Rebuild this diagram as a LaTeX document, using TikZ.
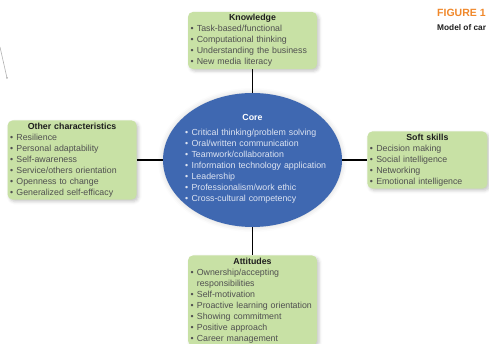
\documentclass[tikz,border=0pt]{standalone}
\usepackage{fontspec}
\setmainfont{Liberation Sans}
\usepackage{tikz}
\usetikzlibrary{positioning, shapes.geometric, shadows.blur}
\definecolor{TraitGreen}{HTML}{C8E1A5}
\definecolor{CoreBlue}{HTML}{3F68B1}
\definecolor{CoreText}{HTML}{DDE4F2}
\definecolor{ItemGray}{HTML}{505050}
\definecolor{TitleDark}{HTML}{1E1E1E}
\definecolor{FigOrange}{HTML}{F0882B}

% bullet line with hanging indent, and a centred bold heading
\newcommand{\itm}[1]{\par\noindent\hangindent=6.4pt\hangafter=1\textbullet\hspace{3.3pt}#1}
\newcommand{\traithead}[1]{{\centering\bfseries\color{TitleDark}#1\par}}

\begin{document}
\begin{tikzpicture}[x=1pt, y=1pt,
    txt/.style={font=\fontsize{8.8}{11}\selectfont},
    trait/.style={txt, draw=none, fill=TraitGreen, rounded corners=5pt, text=ItemGray, align=left, inner xsep=2.5pt, inner ysep=2.5pt, blur shadow={shadow xshift=2pt, shadow yshift=-2pt, shadow blur radius=3pt, shadow opacity=22}},
    link/.style={line width=1.3pt, black}]
    \useasboundingbox (0,0) rectangle (489,-344);
    \clip (0,0) rectangle (489,-344);

    \node[ellipse, fill=CoreBlue, minimum width=179pt, minimum height=134pt, inner sep=0pt, blur shadow={shadow xshift=0pt, shadow yshift=0pt, shadow blur radius=5pt, shadow opacity=18}] (core) at (252.5,-160) {};
    \node[txt, font=\fontsize{8.8}{11}\selectfont\bfseries, text=white, inner sep=0pt] (coretitle) at (252.5,-117) {Core};
    \node[txt, text=CoreText, align=left, text width=150pt, inner sep=0pt, anchor=north west] (corelist) at (185,-124.8) {\itm{Critical thinking/problem solving}\itm{Oral/written communication}\itm{Teamwork/collaboration}\itm{Information technology application}\itm{Leadership}\itm{Professionalism/work ethic}\itm{Cross-cultural competency}};

    \node[trait, text width=124pt, above=23.5pt of core] (know) {\traithead{Knowledge}\itm{Task-based/functional}\itm{Computational thinking}\itm{Understanding the business}\itm{New media literacy}};
    \node[trait, text width=124pt, left=26pt of core] (other) {\traithead{Other characteristics}\itm{Resilience}\itm{Personal adaptability}\itm{Self-awareness}\itm{Service/others orientation}\itm{Openness to change}\itm{Generalized self-efficacy}};
    \node[trait, text width=115pt, right=25pt of core] (soft) {\traithead{Soft skills}\itm{Decision making}\itm{Social intelligence}\itm{Networking}\itm{Emotional intelligence}};
    \node[trait, text width=124pt, below=28pt of core] (attit) {\traithead{Attitudes}\itm{Ownership/accepting\newline responsibilities}\itm{Self-motivation}\itm{Proactive learning orientation}\itm{Showing commitment}\itm{Positive approach}\itm{Career management}};

    \draw[link] (know) -- (core);
    \draw[link] (other) -- (core);
    \draw[link] (soft) -- (core);
    \draw[link] (attit) -- (core);

    % figure heading at the page edge
    \node[anchor=west, inner sep=0pt, font=\bfseries\fontsize{10.5}{12}\selectfont, text=FigOrange] (fignum) at (437,-13) {FIGURE 1};
    \node[anchor=west, inner sep=0pt, font=\bfseries\fontsize{8.3}{10}\selectfont, text=TitleDark] (figcap) at (437,-27.5) {Model of car};

    % stray leader line on the left margin
    \coordinate (leadtop) at (0,-47);
    \coordinate (leadend) at (7,-78);
    \draw[gray!60, line width=0.6pt] (leadtop) -- (leadend);
    \fill[gray!60] (leadend) circle (1pt);
\end{tikzpicture}
\end{document}
